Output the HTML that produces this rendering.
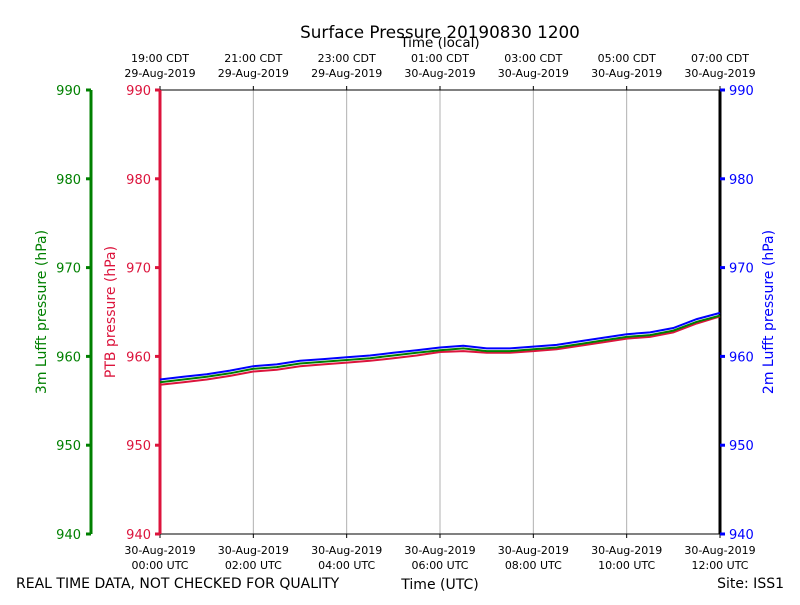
<!DOCTYPE html>
<html><head><meta charset="utf-8"><style>
body{margin:0;background:#fff}
svg{font-family:"DejaVu Sans","Liberation Sans",sans-serif}
</style></head><body>
<svg id="chart" width="800" height="600" xmlns="http://www.w3.org/2000/svg">
<text x="440" y="38" font-size="16.8" text-anchor="middle">Surface Pressure 20190830 1200</text>
<text x="440" y="47" font-size="13.5" text-anchor="middle">Time (local)</text>
<text x="440" y="589" font-size="14" text-anchor="middle">Time (UTC)</text>
<text x="16" y="588" font-size="14">REAL TIME DATA, NOT CHECKED FOR QUALITY</text>
<text x="784" y="588" font-size="14" text-anchor="end">Site: ISS1</text>
<text transform="translate(46,312) rotate(-90)" font-size="14" fill="green" text-anchor="middle">3m Lufft pressure (hPa)</text>
<text transform="translate(115,312) rotate(-90)" font-size="14" fill="crimson" text-anchor="middle">PTB pressure (hPa)</text>
<text transform="translate(773,312) rotate(-90)" font-size="14" fill="blue" text-anchor="middle">2m Lufft pressure (hPa)</text>
<g id="grid"></g><g id="axes"></g><g id="series"></g>
</svg>
<script>
const hours=[0,0.5,1,1.5,2,2.5,3,3.5,4,4.5,5,5.5,6,6.5,7,7.5,8,8.5,9,9.5,10,10.5,11,11.5,12];
const lufft2m=[957.4,957.7,958.0,958.4,958.9,959.1,959.5,959.7,959.9,960.1,960.4,960.7,961.0,961.2,960.9,960.9,961.1,961.3,961.7,962.1,962.5,962.7,963.2,964.2,964.9];
const lufft3m=[957.1,957.4,957.7,958.1,958.6,958.8,959.2,959.4,959.6,959.8,960.1,960.4,960.7,960.9,960.6,960.6,960.8,961.0,961.4,961.8,962.2,962.4,962.9,963.9,964.6];
const ptb=[956.8,957.1,957.4,957.8,958.3,958.5,958.9,959.1,959.3,959.5,959.8,960.1,960.5,960.6,960.4,960.4,960.6,960.8,961.2,961.6,962.0,962.2,962.7,963.7,964.5];
const yTicks=[940,950,960,970,980,990];
const xTicks=[0,2,4,6,8,10,12];
const utcLabels=["00:00 UTC","02:00 UTC","04:00 UTC","06:00 UTC","08:00 UTC","10:00 UTC","12:00 UTC"];
const utcDates=["30-Aug-2019","30-Aug-2019","30-Aug-2019","30-Aug-2019","30-Aug-2019","30-Aug-2019","30-Aug-2019"];
const localLabels=["19:00 CDT","21:00 CDT","23:00 CDT","01:00 CDT","03:00 CDT","05:00 CDT","07:00 CDT"];
const localDates=["29-Aug-2019","29-Aug-2019","29-Aug-2019","30-Aug-2019","30-Aug-2019","30-Aug-2019","30-Aug-2019"];
const NS="http://www.w3.org/2000/svg";
const X0=160,X1=720,Y0=534,Y1=90;
const xs=h=>X0+(h/12)*(X1-X0);
const ys=v=>Y0-(v-940)/50*(Y0-Y1);
function mk(t,a,p){const e=document.createElementNS(NS,t);for(const k in a)e.setAttribute(k,a[k]);p.appendChild(e);return e;}
const grid=document.getElementById('grid'),axes=document.getElementById('axes'),ser=document.getElementById('series');
mk('rect',{x:X0,y:Y1,width:X1-X0,height:Y0-Y1,fill:'none',stroke:'#000','stroke-width':1},axes);
xTicks.forEach((h,i)=>{
 const x=xs(h);
 if(i>0&&i<xTicks.length-1){const g=mk('line',{x1:x,x2:x,y1:Y1,y2:Y0,stroke:'#b0b0b0','stroke-width':1},grid);
 
 }
 mk('line',{x1:x,x2:x,y1:Y0,y2:Y0+4,stroke:'#000'},axes);
 mk('line',{x1:x,x2:x,y1:Y1,y2:Y1-4,stroke:'#000'},axes);
 const t1=mk('text',{x:x,y:554,'font-size':11,'text-anchor':'middle'},axes);t1.textContent=utcDates[i];
 
 
 const t2=mk('text',{x:x,y:569,'font-size':11,'text-anchor':'middle'},axes);t2.textContent=utcLabels[i];
 const t3=mk('text',{x:x,y:62,'font-size':11,'text-anchor':'middle'},axes);t3.textContent=localLabels[i];
 
 
 const t4=mk('text',{x:x,y:77,'font-size':11,'text-anchor':'middle'},axes);t4.textContent=localDates[i];
});
mk('line',{x1:91,x2:91,y1:Y1,y2:Y0,stroke:'green','stroke-width':3},axes);
mk('line',{x1:X0,x2:X0,y1:Y1,y2:Y0,stroke:'crimson','stroke-width':3},axes);
mk('line',{x1:X1,x2:X1,y1:Y1,y2:Y0,stroke:'#000','stroke-width':3},axes);
yTicks.forEach(v=>{
 const y=ys(v);
 mk('line',{x1:86,x2:91,y1:y,y2:y,stroke:'green','stroke-width':3},axes);
 const a=mk('text',{x:81,y:y+5,'font-size':13,fill:'green','text-anchor':'end'},axes);a.textContent=v;
 
 
 mk('line',{x1:155,x2:160,y1:y,y2:y,stroke:'crimson','stroke-width':3},axes);
 const b=mk('text',{x:151,y:y+5,'font-size':13,fill:'crimson','text-anchor':'end'},axes);b.textContent=v;
 
 
 mk('line',{x1:720,x2:725,y1:y,y2:y,stroke:'blue','stroke-width':3},axes);
 const c=mk('text',{x:729,y:y+5,'font-size':13,fill:'blue'},axes);c.textContent=v;
 
 
});
function line(vals,col,name){
 const d=vals.map((v,i)=>(i?'L':'M')+xs(hours[i]).toFixed(1)+','+ys(v).toFixed(1)).join('');
 const p=mk('path',{d:d,fill:'none',stroke:col,'stroke-width':2},ser);
 
 
}
line(ptb,'crimson','ptb-line');
line(lufft3m,'green','lufft3m-line');
line(lufft2m,'blue','lufft2m-line');
</script>
</body></html>
